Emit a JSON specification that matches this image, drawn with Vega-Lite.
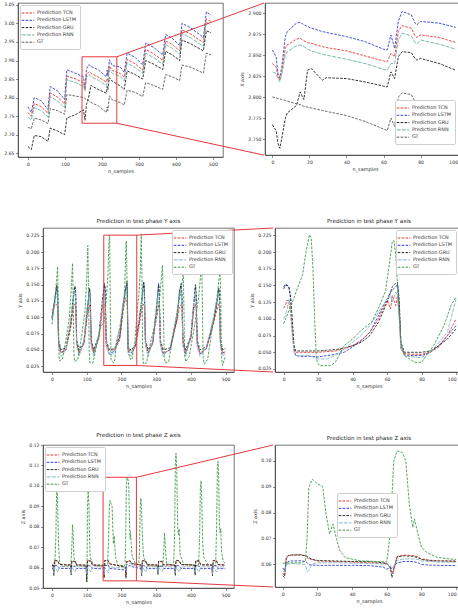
{
"$schema":"https://vega.github.io/schema/vega-lite/v6.json",
"padding":{"left":3,"top":1,"right":0,"bottom":0},
"config":{"font":"DejaVu Sans","background":"white","view":{"stroke":"#3a3a3a","strokeWidth":0.7},
"axis":{"labelFontSize":4.6,"titleFontSize":4.9,"titleFontWeight":"normal","labelColor":"#333","titleColor":"#333","tickColor":"#444","domainColor":"#3a3a3a","tickSize":2.5,"tickWidth":0.6,"domainWidth":0.7,"labelPadding":1.5,"titlePadding":3,"grid":false,"labelFlush":false,"labelOverlap":false},
"title":{"fontSize":5.6,"fontWeight":"normal","color":"#222","offset":3},
"legend":{"labelFontSize":4.9,"labelColor":"#333","symbolSize":49,"symbolStrokeWidth":1,"rowPadding":1.3,"padding":4,"strokeColor":"#cfcfcf","fillColor":"white","cornerRadius":1.5,"offset":2,"labelOffset":5,"labelLimit":120}},
"datasets":{
"r1l":[
{"s":"LSTM","x":0,"y":2.775},{"s":"LSTM","x":9,"y":2.76},{"s":"LSTM","x":17,"y":2.8},{"s":"LSTM","x":35,"y":2.792},{"s":"LSTM","x":54,"y":2.768},{"s":"LSTM","x":60,"y":2.83},{"s":"LSTM","x":80,"y":2.818},{"s":"LSTM","x":99,"y":2.795},{"s":"LSTM","x":105,"y":2.875},{"s":"LSTM","x":130,"y":2.865},{"s":"LSTM","x":150,"y":2.856},{"s":"LSTM","x":154,"y":2.823},{"s":"LSTM","x":158,"y":2.878},{"s":"LSTM","x":165,"y":2.889},{"s":"LSTM","x":170,"y":2.884},{"s":"LSTM","x":190,"y":2.875},{"s":"LSTM","x":212,"y":2.856},{"s":"LSTM","x":214,"y":2.874},{"s":"LSTM","x":216,"y":2.858},{"s":"LSTM","x":220,"y":2.902},{"s":"LSTM","x":228,"y":2.886},{"s":"LSTM","x":249,"y":2.883},{"s":"LSTM","x":260,"y":2.868},{"s":"LSTM","x":268,"y":2.92},{"s":"LSTM","x":290,"y":2.908},{"s":"LSTM","x":310,"y":2.888},{"s":"LSTM","x":318,"y":2.947},{"s":"LSTM","x":340,"y":2.935},{"s":"LSTM","x":364,"y":2.915},{"s":"LSTM","x":372,"y":2.97},{"s":"LSTM","x":390,"y":2.96},{"s":"LSTM","x":410,"y":2.94},{"s":"LSTM","x":416,"y":3.0},{"s":"LSTM","x":440,"y":2.988},{"s":"LSTM","x":474,"y":2.962},{"s":"LSTM","x":482,"y":3.031},{"s":"LSTM","x":495,"y":3.022},
{"s":"TCN","x":0,"y":2.76},{"s":"TCN","x":9,"y":2.75},{"s":"TCN","x":17,"y":2.784},{"s":"TCN","x":35,"y":2.776},{"s":"TCN","x":54,"y":2.758},{"s":"TCN","x":60,"y":2.813},{"s":"TCN","x":80,"y":2.801},{"s":"TCN","x":99,"y":2.783},{"s":"TCN","x":105,"y":2.858},{"s":"TCN","x":130,"y":2.85},{"s":"TCN","x":150,"y":2.84},{"s":"TCN","x":154,"y":2.82},{"s":"TCN","x":158,"y":2.862},{"s":"TCN","x":165,"y":2.87},{"s":"TCN","x":170,"y":2.866},{"s":"TCN","x":190,"y":2.855},{"s":"TCN","x":212,"y":2.842},{"s":"TCN","x":214,"y":2.852},{"s":"TCN","x":216,"y":2.848},{"s":"TCN","x":220,"y":2.885},{"s":"TCN","x":228,"y":2.873},{"s":"TCN","x":249,"y":2.865},{"s":"TCN","x":260,"y":2.855},{"s":"TCN","x":268,"y":2.903},{"s":"TCN","x":290,"y":2.891},{"s":"TCN","x":310,"y":2.874},{"s":"TCN","x":318,"y":2.93},{"s":"TCN","x":340,"y":2.918},{"s":"TCN","x":364,"y":2.9},{"s":"TCN","x":372,"y":2.953},{"s":"TCN","x":390,"y":2.943},{"s":"TCN","x":410,"y":2.926},{"s":"TCN","x":416,"y":2.983},{"s":"TCN","x":440,"y":2.971},{"s":"TCN","x":474,"y":2.948},{"s":"TCN","x":482,"y":3.012},{"s":"TCN","x":495,"y":3.005},
{"s":"RNN","x":0,"y":2.748},{"s":"RNN","x":9,"y":2.74},{"s":"RNN","x":17,"y":2.773},{"s":"RNN","x":35,"y":2.765},{"s":"RNN","x":54,"y":2.748},{"s":"RNN","x":60,"y":2.803},{"s":"RNN","x":80,"y":2.791},{"s":"RNN","x":99,"y":2.772},{"s":"RNN","x":105,"y":2.848},{"s":"RNN","x":130,"y":2.84},{"s":"RNN","x":150,"y":2.83},{"s":"RNN","x":154,"y":2.818},{"s":"RNN","x":158,"y":2.854},{"s":"RNN","x":165,"y":2.862},{"s":"RNN","x":170,"y":2.857},{"s":"RNN","x":190,"y":2.847},{"s":"RNN","x":212,"y":2.832},{"s":"RNN","x":214,"y":2.84},{"s":"RNN","x":216,"y":2.84},{"s":"RNN","x":220,"y":2.876},{"s":"RNN","x":228,"y":2.865},{"s":"RNN","x":249,"y":2.857},{"s":"RNN","x":260,"y":2.845},{"s":"RNN","x":268,"y":2.893},{"s":"RNN","x":290,"y":2.881},{"s":"RNN","x":310,"y":2.865},{"s":"RNN","x":318,"y":2.92},{"s":"RNN","x":340,"y":2.908},{"s":"RNN","x":364,"y":2.89},{"s":"RNN","x":372,"y":2.943},{"s":"RNN","x":390,"y":2.933},{"s":"RNN","x":410,"y":2.916},{"s":"RNN","x":416,"y":2.973},{"s":"RNN","x":440,"y":2.961},{"s":"RNN","x":474,"y":2.938},{"s":"RNN","x":482,"y":3.004},{"s":"RNN","x":495,"y":2.995},
{"s":"GRU","x":0,"y":2.668},{"s":"GRU","x":9,"y":2.66},{"s":"GRU","x":17,"y":2.698},{"s":"GRU","x":35,"y":2.695},{"s":"GRU","x":54,"y":2.682},{"s":"GRU","x":60,"y":2.718},{"s":"GRU","x":80,"y":2.71},{"s":"GRU","x":99,"y":2.7},{"s":"GRU","x":105,"y":2.745},{"s":"GRU","x":130,"y":2.755},{"s":"GRU","x":150,"y":2.767},{"s":"GRU","x":154,"y":2.739},{"s":"GRU","x":158,"y":2.781},{"s":"GRU","x":165,"y":2.806},{"s":"GRU","x":170,"y":2.833},{"s":"GRU","x":190,"y":2.822},{"s":"GRU","x":212,"y":2.812},{"s":"GRU","x":214,"y":2.83},{"s":"GRU","x":216,"y":2.822},{"s":"GRU","x":220,"y":2.854},{"s":"GRU","x":228,"y":2.844},{"s":"GRU","x":249,"y":2.832},{"s":"GRU","x":260,"y":2.822},{"s":"GRU","x":268,"y":2.872},{"s":"GRU","x":290,"y":2.862},{"s":"GRU","x":310,"y":2.85},{"s":"GRU","x":318,"y":2.9},{"s":"GRU","x":340,"y":2.89},{"s":"GRU","x":364,"y":2.876},{"s":"GRU","x":372,"y":2.925},{"s":"GRU","x":390,"y":2.915},{"s":"GRU","x":410,"y":2.9},{"s":"GRU","x":416,"y":2.955},{"s":"GRU","x":440,"y":2.945},{"s":"GRU","x":474,"y":2.926},{"s":"GRU","x":482,"y":2.98},{"s":"GRU","x":495,"y":2.975},
{"s":"GT","x":0,"y":2.72},{"s":"GT","x":9,"y":2.716},{"s":"GT","x":17,"y":2.745},{"s":"GT","x":35,"y":2.74},{"s":"GT","x":54,"y":2.73},{"s":"GT","x":60,"y":2.77},{"s":"GT","x":80,"y":2.765},{"s":"GT","x":99,"y":2.755},{"s":"GT","x":105,"y":2.808},{"s":"GT","x":130,"y":2.804},{"s":"GT","x":150,"y":2.8},{"s":"GT","x":154,"y":2.798},{"s":"GT","x":158,"y":2.795},{"s":"GT","x":165,"y":2.791},{"s":"GT","x":170,"y":2.787},{"s":"GT","x":190,"y":2.778},{"s":"GT","x":212,"y":2.76},{"s":"GT","x":214,"y":2.775},{"s":"GT","x":216,"y":2.765},{"s":"GT","x":220,"y":2.805},{"s":"GT","x":228,"y":2.794},{"s":"GT","x":249,"y":2.787},{"s":"GT","x":260,"y":2.78},{"s":"GT","x":268,"y":2.82},{"s":"GT","x":290,"y":2.814},{"s":"GT","x":310,"y":2.803},{"s":"GT","x":318,"y":2.84},{"s":"GT","x":340,"y":2.833},{"s":"GT","x":364,"y":2.822},{"s":"GT","x":372,"y":2.862},{"s":"GT","x":390,"y":2.856},{"s":"GT","x":410,"y":2.846},{"s":"GT","x":416,"y":2.888},{"s":"GT","x":440,"y":2.882},{"s":"GT","x":474,"y":2.866},{"s":"GT","x":482,"y":2.92},{"s":"GT","x":495,"y":2.915}
],
"r1r":[
{"s":"LSTM","x":0,"y":2.856},{"s":"LSTM","x":2,"y":2.848},{"s":"LSTM","x":3,"y":2.828},{"s":"LSTM","x":4,"y":2.823},{"s":"LSTM","x":5,"y":2.835},{"s":"LSTM","x":7,"y":2.872},{"s":"LSTM","x":8,"y":2.878},{"s":"LSTM","x":13,"y":2.888},{"s":"LSTM","x":15,"y":2.889},{"s":"LSTM","x":17,"y":2.886},{"s":"LSTM","x":19,"y":2.884},{"s":"LSTM","x":21,"y":2.882},{"s":"LSTM","x":27,"y":2.878},{"s":"LSTM","x":29,"y":2.877},{"s":"LSTM","x":40,"y":2.872},{"s":"LSTM","x":50,"y":2.866},{"s":"LSTM","x":60,"y":2.857},{"s":"LSTM","x":62,"y":2.856},{"s":"LSTM","x":64,"y":2.874},{"s":"LSTM","x":66,"y":2.858},{"s":"LSTM","x":68,"y":2.89},{"s":"LSTM","x":70,"y":2.902},{"s":"LSTM","x":75,"y":2.898},{"s":"LSTM","x":77,"y":2.888},{"s":"LSTM","x":78,"y":2.886},{"s":"LSTM","x":80,"y":2.89},{"s":"LSTM","x":90,"y":2.888},{"s":"LSTM","x":99,"y":2.883},
{"s":"TCN","x":0,"y":2.84},{"s":"TCN","x":2,"y":2.836},{"s":"TCN","x":3,"y":2.825},{"s":"TCN","x":4,"y":2.82},{"s":"TCN","x":5,"y":2.83},{"s":"TCN","x":7,"y":2.858},{"s":"TCN","x":8,"y":2.862},{"s":"TCN","x":13,"y":2.869},{"s":"TCN","x":15,"y":2.87},{"s":"TCN","x":17,"y":2.867},{"s":"TCN","x":19,"y":2.865},{"s":"TCN","x":21,"y":2.864},{"s":"TCN","x":27,"y":2.86},{"s":"TCN","x":29,"y":2.859},{"s":"TCN","x":40,"y":2.855},{"s":"TCN","x":50,"y":2.849},{"s":"TCN","x":60,"y":2.843},{"s":"TCN","x":62,"y":2.842},{"s":"TCN","x":64,"y":2.852},{"s":"TCN","x":66,"y":2.848},{"s":"TCN","x":68,"y":2.878},{"s":"TCN","x":70,"y":2.885},{"s":"TCN","x":75,"y":2.882},{"s":"TCN","x":77,"y":2.873},{"s":"TCN","x":78,"y":2.871},{"s":"TCN","x":80,"y":2.874},{"s":"TCN","x":90,"y":2.871},{"s":"TCN","x":99,"y":2.865},
{"s":"RNN","x":0,"y":2.83},{"s":"RNN","x":2,"y":2.828},{"s":"RNN","x":3,"y":2.822},{"s":"RNN","x":4,"y":2.818},{"s":"RNN","x":5,"y":2.826},{"s":"RNN","x":7,"y":2.85},{"s":"RNN","x":8,"y":2.854},{"s":"RNN","x":13,"y":2.861},{"s":"RNN","x":15,"y":2.862},{"s":"RNN","x":17,"y":2.86},{"s":"RNN","x":19,"y":2.857},{"s":"RNN","x":21,"y":2.855},{"s":"RNN","x":27,"y":2.851},{"s":"RNN","x":29,"y":2.85},{"s":"RNN","x":40,"y":2.845},{"s":"RNN","x":50,"y":2.84},{"s":"RNN","x":60,"y":2.833},{"s":"RNN","x":62,"y":2.832},{"s":"RNN","x":64,"y":2.84},{"s":"RNN","x":66,"y":2.84},{"s":"RNN","x":68,"y":2.868},{"s":"RNN","x":70,"y":2.876},{"s":"RNN","x":75,"y":2.873},{"s":"RNN","x":77,"y":2.865},{"s":"RNN","x":78,"y":2.863},{"s":"RNN","x":80,"y":2.868},{"s":"RNN","x":90,"y":2.863},{"s":"RNN","x":99,"y":2.857},
{"s":"GRU","x":0,"y":2.767},{"s":"GRU","x":2,"y":2.76},{"s":"GRU","x":3,"y":2.745},{"s":"GRU","x":4,"y":2.739},{"s":"GRU","x":5,"y":2.75},{"s":"GRU","x":7,"y":2.775},{"s":"GRU","x":8,"y":2.781},{"s":"GRU","x":13,"y":2.79},{"s":"GRU","x":15,"y":2.806},{"s":"GRU","x":17,"y":2.797},{"s":"GRU","x":19,"y":2.832},{"s":"GRU","x":21,"y":2.834},{"s":"GRU","x":27,"y":2.82},{"s":"GRU","x":29,"y":2.823},{"s":"GRU","x":40,"y":2.822},{"s":"GRU","x":50,"y":2.818},{"s":"GRU","x":60,"y":2.813},{"s":"GRU","x":62,"y":2.812},{"s":"GRU","x":64,"y":2.83},{"s":"GRU","x":66,"y":2.822},{"s":"GRU","x":68,"y":2.848},{"s":"GRU","x":70,"y":2.854},{"s":"GRU","x":75,"y":2.853},{"s":"GRU","x":77,"y":2.846},{"s":"GRU","x":78,"y":2.844},{"s":"GRU","x":80,"y":2.846},{"s":"GRU","x":90,"y":2.84},{"s":"GRU","x":99,"y":2.832},
{"s":"GT","x":0,"y":2.8},{"s":"GT","x":2,"y":2.799},{"s":"GT","x":3,"y":2.798},{"s":"GT","x":4,"y":2.798},{"s":"GT","x":5,"y":2.797},{"s":"GT","x":7,"y":2.796},{"s":"GT","x":8,"y":2.795},{"s":"GT","x":13,"y":2.792},{"s":"GT","x":15,"y":2.791},{"s":"GT","x":17,"y":2.789},{"s":"GT","x":19,"y":2.788},{"s":"GT","x":21,"y":2.787},{"s":"GT","x":27,"y":2.784},{"s":"GT","x":29,"y":2.783},{"s":"GT","x":40,"y":2.778},{"s":"GT","x":50,"y":2.771},{"s":"GT","x":60,"y":2.762},{"s":"GT","x":62,"y":2.76},{"s":"GT","x":64,"y":2.775},{"s":"GT","x":66,"y":2.765},{"s":"GT","x":68,"y":2.8},{"s":"GT","x":70,"y":2.805},{"s":"GT","x":75,"y":2.803},{"s":"GT","x":77,"y":2.795},{"s":"GT","x":78,"y":2.793},{"s":"GT","x":80,"y":2.796},{"s":"GT","x":90,"y":2.792},{"s":"GT","x":99,"y":2.787}
],
"r2l":[
{"s":"LSTM","x":0,"y":0.1},{"s":"LSTM","x":8,"y":0.128},{"s":"LSTM","x":14,"y":0.147},{"s":"LSTM","x":16,"y":0.135},{"s":"LSTM","x":19,"y":0.06},{"s":"LSTM","x":26,"y":0.046},{"s":"LSTM","x":40,"y":0.05},{"s":"LSTM","x":54,"y":0.09},{"s":"LSTM","x":61,"y":0.13},{"s":"LSTM","x":66,"y":0.145},{"s":"LSTM","x":68,"y":0.135},{"s":"LSTM","x":71,"y":0.06},{"s":"LSTM","x":78,"y":0.045},{"s":"LSTM","x":92,"y":0.06},{"s":"LSTM","x":101,"y":0.11},{"s":"LSTM","x":108,"y":0.142},{"s":"LSTM","x":110,"y":0.13},{"s":"LSTM","x":113,"y":0.06},{"s":"LSTM","x":120,"y":0.045},{"s":"LSTM","x":135,"y":0.07},{"s":"LSTM","x":146,"y":0.13},{"s":"LSTM","x":151,"y":0.152},{"s":"LSTM","x":153,"y":0.14},{"s":"LSTM","x":156,"y":0.06},{"s":"LSTM","x":165,"y":0.044},{"s":"LSTM","x":180,"y":0.048},{"s":"LSTM","x":195,"y":0.07},{"s":"LSTM","x":205,"y":0.12},{"s":"LSTM","x":211,"y":0.142},{"s":"LSTM","x":216,"y":0.152},{"s":"LSTM","x":217,"y":0.13},{"s":"LSTM","x":219,"y":0.048},{"s":"LSTM","x":228,"y":0.045},{"s":"LSTM","x":240,"y":0.055},{"s":"LSTM","x":252,"y":0.1},{"s":"LSTM","x":259,"y":0.13},{"s":"LSTM","x":264,"y":0.155},{"s":"LSTM","x":266,"y":0.14},{"s":"LSTM","x":269,"y":0.06},{"s":"LSTM","x":277,"y":0.045},{"s":"LSTM","x":290,"y":0.06},{"s":"LSTM","x":300,"y":0.11},{"s":"LSTM","x":307,"y":0.152},{"s":"LSTM","x":309,"y":0.13},{"s":"LSTM","x":312,"y":0.06},{"s":"LSTM","x":320,"y":0.044},{"s":"LSTM","x":340,"y":0.05},{"s":"LSTM","x":360,"y":0.1},{"s":"LSTM","x":367,"y":0.14},{"s":"LSTM","x":372,"y":0.15},{"s":"LSTM","x":374,"y":0.13},{"s":"LSTM","x":377,"y":0.06},{"s":"LSTM","x":385,"y":0.044},{"s":"LSTM","x":400,"y":0.07},{"s":"LSTM","x":408,"y":0.12},{"s":"LSTM","x":413,"y":0.147},{"s":"LSTM","x":415,"y":0.13},{"s":"LSTM","x":418,"y":0.06},{"s":"LSTM","x":426,"y":0.044},{"s":"LSTM","x":445,"y":0.052},{"s":"LSTM","x":465,"y":0.095},{"s":"LSTM","x":474,"y":0.12},{"s":"LSTM","x":480,"y":0.143},{"s":"LSTM","x":482,"y":0.13},{"s":"LSTM","x":485,"y":0.06},{"s":"LSTM","x":492,"y":0.045},{"s":"LSTM","x":499,"y":0.048},
{"s":"GRU","x":0,"y":0.098},{"s":"GRU","x":8,"y":0.125},{"s":"GRU","x":14,"y":0.15},{"s":"GRU","x":16,"y":0.14},{"s":"GRU","x":19,"y":0.065},{"s":"GRU","x":26,"y":0.05},{"s":"GRU","x":40,"y":0.053},{"s":"GRU","x":54,"y":0.088},{"s":"GRU","x":61,"y":0.128},{"s":"GRU","x":66,"y":0.148},{"s":"GRU","x":68,"y":0.14},{"s":"GRU","x":71,"y":0.065},{"s":"GRU","x":78,"y":0.05},{"s":"GRU","x":92,"y":0.062},{"s":"GRU","x":101,"y":0.108},{"s":"GRU","x":108,"y":0.145},{"s":"GRU","x":110,"y":0.135},{"s":"GRU","x":113,"y":0.065},{"s":"GRU","x":120,"y":0.05},{"s":"GRU","x":135,"y":0.072},{"s":"GRU","x":146,"y":0.128},{"s":"GRU","x":151,"y":0.15},{"s":"GRU","x":153,"y":0.145},{"s":"GRU","x":156,"y":0.065},{"s":"GRU","x":165,"y":0.05},{"s":"GRU","x":180,"y":0.052},{"s":"GRU","x":195,"y":0.07},{"s":"GRU","x":205,"y":0.118},{"s":"GRU","x":211,"y":0.14},{"s":"GRU","x":216,"y":0.155},{"s":"GRU","x":217,"y":0.135},{"s":"GRU","x":219,"y":0.052},{"s":"GRU","x":228,"y":0.05},{"s":"GRU","x":240,"y":0.057},{"s":"GRU","x":252,"y":0.098},{"s":"GRU","x":259,"y":0.128},{"s":"GRU","x":264,"y":0.153},{"s":"GRU","x":266,"y":0.145},{"s":"GRU","x":269,"y":0.065},{"s":"GRU","x":277,"y":0.05},{"s":"GRU","x":290,"y":0.062},{"s":"GRU","x":300,"y":0.108},{"s":"GRU","x":307,"y":0.15},{"s":"GRU","x":309,"y":0.135},{"s":"GRU","x":312,"y":0.065},{"s":"GRU","x":320,"y":0.05},{"s":"GRU","x":340,"y":0.053},{"s":"GRU","x":360,"y":0.098},{"s":"GRU","x":367,"y":0.138},{"s":"GRU","x":372,"y":0.152},{"s":"GRU","x":374,"y":0.135},{"s":"GRU","x":377,"y":0.065},{"s":"GRU","x":385,"y":0.05},{"s":"GRU","x":400,"y":0.072},{"s":"GRU","x":408,"y":0.118},{"s":"GRU","x":413,"y":0.15},{"s":"GRU","x":415,"y":0.135},{"s":"GRU","x":418,"y":0.065},{"s":"GRU","x":426,"y":0.05},{"s":"GRU","x":445,"y":0.055},{"s":"GRU","x":465,"y":0.093},{"s":"GRU","x":474,"y":0.118},{"s":"GRU","x":480,"y":0.145},{"s":"GRU","x":482,"y":0.135},{"s":"GRU","x":485,"y":0.065},{"s":"GRU","x":492,"y":0.05},{"s":"GRU","x":499,"y":0.052},
{"s":"TCN","x":0,"y":0.11},{"s":"TCN","x":8,"y":0.118},{"s":"TCN","x":14,"y":0.12},{"s":"TCN","x":16,"y":0.115},{"s":"TCN","x":19,"y":0.06},{"s":"TCN","x":26,"y":0.045},{"s":"TCN","x":40,"y":0.05},{"s":"TCN","x":54,"y":0.085},{"s":"TCN","x":61,"y":0.115},{"s":"TCN","x":66,"y":0.12},{"s":"TCN","x":68,"y":0.115},{"s":"TCN","x":71,"y":0.06},{"s":"TCN","x":78,"y":0.045},{"s":"TCN","x":92,"y":0.06},{"s":"TCN","x":101,"y":0.1},{"s":"TCN","x":108,"y":0.118},{"s":"TCN","x":110,"y":0.112},{"s":"TCN","x":113,"y":0.06},{"s":"TCN","x":120,"y":0.046},{"s":"TCN","x":135,"y":0.068},{"s":"TCN","x":146,"y":0.115},{"s":"TCN","x":151,"y":0.118},{"s":"TCN","x":153,"y":0.12},{"s":"TCN","x":156,"y":0.06},{"s":"TCN","x":165,"y":0.05},{"s":"TCN","x":180,"y":0.05},{"s":"TCN","x":195,"y":0.065},{"s":"TCN","x":205,"y":0.11},{"s":"TCN","x":211,"y":0.13},{"s":"TCN","x":216,"y":0.12},{"s":"TCN","x":217,"y":0.115},{"s":"TCN","x":219,"y":0.05},{"s":"TCN","x":228,"y":0.048},{"s":"TCN","x":240,"y":0.055},{"s":"TCN","x":252,"y":0.09},{"s":"TCN","x":259,"y":0.115},{"s":"TCN","x":264,"y":0.12},{"s":"TCN","x":266,"y":0.118},{"s":"TCN","x":269,"y":0.06},{"s":"TCN","x":277,"y":0.046},{"s":"TCN","x":290,"y":0.06},{"s":"TCN","x":300,"y":0.1},{"s":"TCN","x":307,"y":0.12},{"s":"TCN","x":309,"y":0.115},{"s":"TCN","x":312,"y":0.06},{"s":"TCN","x":320,"y":0.045},{"s":"TCN","x":340,"y":0.05},{"s":"TCN","x":360,"y":0.095},{"s":"TCN","x":367,"y":0.115},{"s":"TCN","x":372,"y":0.12},{"s":"TCN","x":374,"y":0.115},{"s":"TCN","x":377,"y":0.06},{"s":"TCN","x":385,"y":0.045},{"s":"TCN","x":400,"y":0.068},{"s":"TCN","x":408,"y":0.11},{"s":"TCN","x":413,"y":0.12},{"s":"TCN","x":415,"y":0.115},{"s":"TCN","x":418,"y":0.06},{"s":"TCN","x":426,"y":0.045},{"s":"TCN","x":445,"y":0.052},{"s":"TCN","x":465,"y":0.09},{"s":"TCN","x":474,"y":0.11},{"s":"TCN","x":480,"y":0.12},{"s":"TCN","x":482,"y":0.115},{"s":"TCN","x":485,"y":0.06},{"s":"TCN","x":492,"y":0.045},{"s":"TCN","x":499,"y":0.047},
{"s":"RNN","x":0,"y":0.095},{"s":"RNN","x":8,"y":0.12},{"s":"RNN","x":14,"y":0.14},{"s":"RNN","x":16,"y":0.13},{"s":"RNN","x":19,"y":0.055},{"s":"RNN","x":26,"y":0.04},{"s":"RNN","x":40,"y":0.05},{"s":"RNN","x":54,"y":0.1},{"s":"RNN","x":61,"y":0.13},{"s":"RNN","x":66,"y":0.14},{"s":"RNN","x":68,"y":0.13},{"s":"RNN","x":71,"y":0.055},{"s":"RNN","x":78,"y":0.04},{"s":"RNN","x":92,"y":0.065},{"s":"RNN","x":101,"y":0.115},{"s":"RNN","x":108,"y":0.138},{"s":"RNN","x":110,"y":0.125},{"s":"RNN","x":113,"y":0.055},{"s":"RNN","x":120,"y":0.04},{"s":"RNN","x":135,"y":0.075},{"s":"RNN","x":146,"y":0.125},{"s":"RNN","x":151,"y":0.14},{"s":"RNN","x":153,"y":0.13},{"s":"RNN","x":156,"y":0.055},{"s":"RNN","x":165,"y":0.042},{"s":"RNN","x":180,"y":0.045},{"s":"RNN","x":195,"y":0.085},{"s":"RNN","x":205,"y":0.125},{"s":"RNN","x":211,"y":0.135},{"s":"RNN","x":216,"y":0.13},{"s":"RNN","x":217,"y":0.12},{"s":"RNN","x":219,"y":0.045},{"s":"RNN","x":228,"y":0.04},{"s":"RNN","x":240,"y":0.06},{"s":"RNN","x":252,"y":0.105},{"s":"RNN","x":259,"y":0.13},{"s":"RNN","x":264,"y":0.145},{"s":"RNN","x":266,"y":0.13},{"s":"RNN","x":269,"y":0.055},{"s":"RNN","x":277,"y":0.04},{"s":"RNN","x":290,"y":0.065},{"s":"RNN","x":300,"y":0.115},{"s":"RNN","x":307,"y":0.14},{"s":"RNN","x":309,"y":0.125},{"s":"RNN","x":312,"y":0.055},{"s":"RNN","x":320,"y":0.04},{"s":"RNN","x":340,"y":0.055},{"s":"RNN","x":360,"y":0.105},{"s":"RNN","x":367,"y":0.135},{"s":"RNN","x":372,"y":0.14},{"s":"RNN","x":374,"y":0.125},{"s":"RNN","x":377,"y":0.055},{"s":"RNN","x":385,"y":0.04},{"s":"RNN","x":400,"y":0.075},{"s":"RNN","x":408,"y":0.125},{"s":"RNN","x":413,"y":0.14},{"s":"RNN","x":415,"y":0.125},{"s":"RNN","x":418,"y":0.055},{"s":"RNN","x":426,"y":0.04},{"s":"RNN","x":445,"y":0.055},{"s":"RNN","x":465,"y":0.1},{"s":"RNN","x":474,"y":0.125},{"s":"RNN","x":480,"y":0.138},{"s":"RNN","x":482,"y":0.125},{"s":"RNN","x":485,"y":0.055},{"s":"RNN","x":492,"y":0.04},{"s":"RNN","x":499,"y":0.045},
{"s":"GT","x":0,"y":0.089},{"s":"GT","x":8,"y":0.13},{"s":"GT","x":13,"y":0.155},{"s":"GT","x":16,"y":0.178},{"s":"GT","x":18,"y":0.12},{"s":"GT","x":20,"y":0.04},{"s":"GT","x":22,"y":0.033},{"s":"GT","x":30,"y":0.036},{"s":"GT","x":40,"y":0.065},{"s":"GT","x":50,"y":0.1},{"s":"GT","x":55,"y":0.14},{"s":"GT","x":59,"y":0.183},{"s":"GT","x":61,"y":0.13},{"s":"GT","x":63,"y":0.045},{"s":"GT","x":65,"y":0.032},{"s":"GT","x":74,"y":0.035},{"s":"GT","x":85,"y":0.07},{"s":"GT","x":95,"y":0.11},{"s":"GT","x":100,"y":0.16},{"s":"GT","x":103,"y":0.21},{"s":"GT","x":105,"y":0.15},{"s":"GT","x":107,"y":0.05},{"s":"GT","x":109,"y":0.03},{"s":"GT","x":118,"y":0.03},{"s":"GT","x":128,"y":0.055},{"s":"GT","x":140,"y":0.085},{"s":"GT","x":150,"y":0.093},{"s":"GT","x":156,"y":0.126},{"s":"GT","x":161,"y":0.166},{"s":"GT","x":163,"y":0.201},{"s":"GT","x":165,"y":0.226},{"s":"GT","x":166,"y":0.221},{"s":"GT","x":168,"y":0.1},{"s":"GT","x":170,"y":0.035},{"s":"GT","x":177,"y":0.03},{"s":"GT","x":181,"y":0.035},{"s":"GT","x":185,"y":0.06},{"s":"GT","x":196,"y":0.083},{"s":"GT","x":205,"y":0.116},{"s":"GT","x":209,"y":0.141},{"s":"GT","x":211,"y":0.176},{"s":"GT","x":213,"y":0.216},{"s":"GT","x":214,"y":0.217},{"s":"GT","x":216,"y":0.151},{"s":"GT","x":218,"y":0.065},{"s":"GT","x":220,"y":0.045},{"s":"GT","x":226,"y":0.035},{"s":"GT","x":230,"y":0.035},{"s":"GT","x":238,"y":0.06},{"s":"GT","x":247,"y":0.12},{"s":"GT","x":250,"y":0.133},{"s":"GT","x":254,"y":0.17},{"s":"GT","x":257,"y":0.228},{"s":"GT","x":259,"y":0.16},{"s":"GT","x":261,"y":0.05},{"s":"GT","x":263,"y":0.028},{"s":"GT","x":272,"y":0.03},{"s":"GT","x":285,"y":0.065},{"s":"GT","x":300,"y":0.095},{"s":"GT","x":310,"y":0.13},{"s":"GT","x":315,"y":0.16},{"s":"GT","x":318,"y":0.18},{"s":"GT","x":321,"y":0.1},{"s":"GT","x":323,"y":0.04},{"s":"GT","x":326,"y":0.03},{"s":"GT","x":336,"y":0.032},{"s":"GT","x":348,"y":0.07},{"s":"GT","x":362,"y":0.115},{"s":"GT","x":372,"y":0.14},{"s":"GT","x":378,"y":0.168},{"s":"GT","x":380,"y":0.11},{"s":"GT","x":382,"y":0.04},{"s":"GT","x":385,"y":0.032},{"s":"GT","x":395,"y":0.04},{"s":"GT","x":410,"y":0.085},{"s":"GT","x":422,"y":0.13},{"s":"GT","x":428,"y":0.165},{"s":"GT","x":431,"y":0.182},{"s":"GT","x":433,"y":0.12},{"s":"GT","x":435,"y":0.04},{"s":"GT","x":438,"y":0.028},{"s":"GT","x":448,"y":0.035},{"s":"GT","x":462,"y":0.085},{"s":"GT","x":475,"y":0.13},{"s":"GT","x":481,"y":0.16},{"s":"GT","x":484,"y":0.17},{"s":"GT","x":486,"y":0.12},{"s":"GT","x":488,"y":0.04},{"s":"GT","x":491,"y":0.026},{"s":"GT","x":499,"y":0.04}
],
"r2r":[
{"s":"LSTM","x":0,"y":0.148},{"s":"LSTM","x":1,"y":0.152},{"s":"LSTM","x":2,"y":0.151},{"s":"LSTM","x":3,"y":0.148},{"s":"LSTM","x":4,"y":0.13},{"s":"LSTM","x":5,"y":0.09},{"s":"LSTM","x":6,"y":0.055},{"s":"LSTM","x":7,"y":0.045},{"s":"LSTM","x":10,"y":0.044},{"s":"LSTM","x":15,"y":0.044},{"s":"LSTM","x":20,"y":0.043},{"s":"LSTM","x":25,"y":0.045},{"s":"LSTM","x":30,"y":0.047},{"s":"LSTM","x":35,"y":0.05},{"s":"LSTM","x":40,"y":0.058},{"s":"LSTM","x":45,"y":0.067},{"s":"LSTM","x":50,"y":0.08},{"s":"LSTM","x":55,"y":0.105},{"s":"LSTM","x":60,"y":0.13},{"s":"LSTM","x":62,"y":0.14},{"s":"LSTM","x":63,"y":0.143},{"s":"LSTM","x":65,"y":0.148},{"s":"LSTM","x":66,"y":0.152},{"s":"LSTM","x":67,"y":0.12},{"s":"LSTM","x":68,"y":0.06},{"s":"LSTM","x":70,"y":0.046},{"s":"LSTM","x":75,"y":0.045},{"s":"LSTM","x":80,"y":0.045},{"s":"LSTM","x":85,"y":0.05},{"s":"LSTM","x":90,"y":0.06},{"s":"LSTM","x":95,"y":0.075},{"s":"LSTM","x":100,"y":0.09},
{"s":"TCN","x":0,"y":0.116},{"s":"TCN","x":1,"y":0.12},{"s":"TCN","x":2,"y":0.128},{"s":"TCN","x":3,"y":0.125},{"s":"TCN","x":4,"y":0.11},{"s":"TCN","x":5,"y":0.08},{"s":"TCN","x":6,"y":0.055},{"s":"TCN","x":7,"y":0.05},{"s":"TCN","x":10,"y":0.05},{"s":"TCN","x":15,"y":0.05},{"s":"TCN","x":20,"y":0.05},{"s":"TCN","x":25,"y":0.051},{"s":"TCN","x":30,"y":0.052},{"s":"TCN","x":35,"y":0.055},{"s":"TCN","x":40,"y":0.06},{"s":"TCN","x":45,"y":0.068},{"s":"TCN","x":50,"y":0.08},{"s":"TCN","x":55,"y":0.1},{"s":"TCN","x":60,"y":0.128},{"s":"TCN","x":62,"y":0.115},{"s":"TCN","x":63,"y":0.135},{"s":"TCN","x":65,"y":0.12},{"s":"TCN","x":66,"y":0.135},{"s":"TCN","x":67,"y":0.11},{"s":"TCN","x":68,"y":0.055},{"s":"TCN","x":70,"y":0.048},{"s":"TCN","x":75,"y":0.047},{"s":"TCN","x":80,"y":0.047},{"s":"TCN","x":85,"y":0.05},{"s":"TCN","x":90,"y":0.058},{"s":"TCN","x":95,"y":0.075},{"s":"TCN","x":100,"y":0.1},
{"s":"GRU","x":0,"y":0.145},{"s":"GRU","x":1,"y":0.15},{"s":"GRU","x":2,"y":0.15},{"s":"GRU","x":3,"y":0.148},{"s":"GRU","x":4,"y":0.135},{"s":"GRU","x":5,"y":0.1},{"s":"GRU","x":6,"y":0.06},{"s":"GRU","x":7,"y":0.052},{"s":"GRU","x":10,"y":0.052},{"s":"GRU","x":15,"y":0.052},{"s":"GRU","x":20,"y":0.052},{"s":"GRU","x":25,"y":0.053},{"s":"GRU","x":30,"y":0.054},{"s":"GRU","x":35,"y":0.056},{"s":"GRU","x":40,"y":0.06},{"s":"GRU","x":45,"y":0.065},{"s":"GRU","x":50,"y":0.075},{"s":"GRU","x":55,"y":0.095},{"s":"GRU","x":60,"y":0.125},{"s":"GRU","x":62,"y":0.14},{"s":"GRU","x":63,"y":0.148},{"s":"GRU","x":65,"y":0.153},{"s":"GRU","x":66,"y":0.155},{"s":"GRU","x":67,"y":0.13},{"s":"GRU","x":68,"y":0.065},{"s":"GRU","x":70,"y":0.05},{"s":"GRU","x":75,"y":0.05},{"s":"GRU","x":80,"y":0.05},{"s":"GRU","x":85,"y":0.052},{"s":"GRU","x":90,"y":0.06},{"s":"GRU","x":95,"y":0.07},{"s":"GRU","x":100,"y":0.085},
{"s":"RNN","x":0,"y":0.1},{"s":"RNN","x":1,"y":0.105},{"s":"RNN","x":2,"y":0.115},{"s":"RNN","x":3,"y":0.13},{"s":"RNN","x":4,"y":0.12},{"s":"RNN","x":5,"y":0.08},{"s":"RNN","x":6,"y":0.05},{"s":"RNN","x":7,"y":0.045},{"s":"RNN","x":10,"y":0.045},{"s":"RNN","x":15,"y":0.045},{"s":"RNN","x":20,"y":0.04},{"s":"RNN","x":25,"y":0.04},{"s":"RNN","x":30,"y":0.045},{"s":"RNN","x":35,"y":0.055},{"s":"RNN","x":40,"y":0.065},{"s":"RNN","x":45,"y":0.075},{"s":"RNN","x":50,"y":0.09},{"s":"RNN","x":55,"y":0.11},{"s":"RNN","x":60,"y":0.13},{"s":"RNN","x":62,"y":0.135},{"s":"RNN","x":63,"y":0.125},{"s":"RNN","x":65,"y":0.14},{"s":"RNN","x":66,"y":0.135},{"s":"RNN","x":67,"y":0.1},{"s":"RNN","x":68,"y":0.055},{"s":"RNN","x":70,"y":0.045},{"s":"RNN","x":75,"y":0.043},{"s":"RNN","x":80,"y":0.042},{"s":"RNN","x":85,"y":0.05},{"s":"RNN","x":90,"y":0.065},{"s":"RNN","x":95,"y":0.08},{"s":"RNN","x":100,"y":0.13},
{"s":"GT","x":0,"y":0.093},{"s":"GT","x":5,"y":0.124},{"s":"GT","x":8,"y":0.146},{"s":"GT","x":11,"y":0.166},{"s":"GT","x":13,"y":0.201},{"s":"GT","x":15,"y":0.226},{"s":"GT","x":16,"y":0.221},{"s":"GT","x":17,"y":0.176},{"s":"GT","x":18,"y":0.1},{"s":"GT","x":19,"y":0.04},{"s":"GT","x":20,"y":0.033},{"s":"GT","x":21,"y":0.03},{"s":"GT","x":27,"y":0.03},{"s":"GT","x":30,"y":0.035},{"s":"GT","x":35,"y":0.06},{"s":"GT","x":40,"y":0.07},{"s":"GT","x":45,"y":0.083},{"s":"GT","x":51,"y":0.095},{"s":"GT","x":55,"y":0.116},{"s":"GT","x":59,"y":0.141},{"s":"GT","x":61,"y":0.176},{"s":"GT","x":63,"y":0.216},{"s":"GT","x":64,"y":0.217},{"s":"GT","x":65,"y":0.196},{"s":"GT","x":66,"y":0.151},{"s":"GT","x":68,"y":0.065},{"s":"GT","x":70,"y":0.045},{"s":"GT","x":73,"y":0.04},{"s":"GT","x":76,"y":0.035},{"s":"GT","x":80,"y":0.035},{"s":"GT","x":84,"y":0.05},{"s":"GT","x":87,"y":0.06},{"s":"GT","x":93,"y":0.09},{"s":"GT","x":97,"y":0.12},{"s":"GT","x":100,"y":0.133}
],
"r3l":[
{"s":"GT","x":0,"y":0.0605},{"s":"GT","x":8,"y":0.061},{"s":"GT","x":11,"y":0.075},{"s":"GT","x":13,"y":0.096},{"s":"GT","x":15,"y":0.098},{"s":"GT","x":17,"y":0.085},{"s":"GT","x":19,"y":0.07},{"s":"GT","x":22,"y":0.063},{"s":"GT","x":30,"y":0.0605},{"s":"GT","x":54,"y":0.061},{"s":"GT","x":57,"y":0.07},{"s":"GT","x":59,"y":0.081},{"s":"GT","x":61,"y":0.076},{"s":"GT","x":63,"y":0.065},{"s":"GT","x":70,"y":0.061},{"s":"GT","x":97,"y":0.0605},{"s":"GT","x":99,"y":0.06},{"s":"GT","x":100,"y":0.053},{"s":"GT","x":101,"y":0.062},{"s":"GT","x":102,"y":0.09},{"s":"GT","x":104,"y":0.0975},{"s":"GT","x":106,"y":0.092},{"s":"GT","x":108,"y":0.075},{"s":"GT","x":110,"y":0.065},{"s":"GT","x":120,"y":0.061},{"s":"GT","x":160,"y":0.061},{"s":"GT","x":163,"y":0.075},{"s":"GT","x":165,"y":0.0897},{"s":"GT","x":167,"y":0.0929},{"s":"GT","x":170,"y":0.0912},{"s":"GT","x":173,"y":0.09},{"s":"GT","x":175,"y":0.079},{"s":"GT","x":177,"y":0.0717},{"s":"GT","x":179,"y":0.0755},{"s":"GT","x":181,"y":0.0698},{"s":"GT","x":183,"y":0.065},{"s":"GT","x":190,"y":0.061},{"s":"GT","x":210,"y":0.061},{"s":"GT","x":212,"y":0.0717},{"s":"GT","x":214,"y":0.1},{"s":"GT","x":216,"y":0.104},{"s":"GT","x":219,"y":0.103},{"s":"GT","x":221,"y":0.1},{"s":"GT","x":223,"y":0.083},{"s":"GT","x":225,"y":0.074},{"s":"GT","x":226,"y":0.0775},{"s":"GT","x":228,"y":0.0717},{"s":"GT","x":230,"y":0.0666},{"s":"GT","x":233,"y":0.0645},{"s":"GT","x":240,"y":0.062},{"s":"GT","x":250,"y":0.0615},{"s":"GT","x":252,"y":0.07},{"s":"GT","x":254,"y":0.09},{"s":"GT","x":256,"y":0.094},{"s":"GT","x":258,"y":0.088},{"s":"GT","x":261,"y":0.072},{"s":"GT","x":264,"y":0.065},{"s":"GT","x":275,"y":0.061},{"s":"GT","x":318,"y":0.0605},{"s":"GT","x":321,"y":0.066},{"s":"GT","x":324,"y":0.077},{"s":"GT","x":327,"y":0.068},{"s":"GT","x":330,"y":0.062},{"s":"GT","x":350,"y":0.061},{"s":"GT","x":353,"y":0.075},{"s":"GT","x":355,"y":0.11},{"s":"GT","x":357,"y":0.116},{"s":"GT","x":359,"y":0.108},{"s":"GT","x":362,"y":0.08},{"s":"GT","x":364,"y":0.076},{"s":"GT","x":366,"y":0.079},{"s":"GT","x":369,"y":0.066},{"s":"GT","x":380,"y":0.0615},{"s":"GT","x":422,"y":0.061},{"s":"GT","x":425,"y":0.075},{"s":"GT","x":427,"y":0.098},{"s":"GT","x":429,"y":0.1025},{"s":"GT","x":431,"y":0.094},{"s":"GT","x":434,"y":0.072},{"s":"GT","x":437,"y":0.065},{"s":"GT","x":450,"y":0.0612},{"s":"GT","x":471,"y":0.061},{"s":"GT","x":474,"y":0.08},{"s":"GT","x":476,"y":0.108},{"s":"GT","x":478,"y":0.112},{"s":"GT","x":480,"y":0.104},{"s":"GT","x":482,"y":0.08},{"s":"GT","x":484,"y":0.077},{"s":"GT","x":486,"y":0.079},{"s":"GT","x":488,"y":0.068},{"s":"GT","x":493,"y":0.063},{"s":"GT","x":499,"y":0.062},
{"s":"TCN","x":0,"y":0.0612},{"s":"TCN","x":3,"y":0.0612},{"s":"TCN","x":5,"y":0.057},{"s":"TCN","x":7,"y":0.0635},{"s":"TCN","x":17,"y":0.0632},{"s":"TCN","x":21,"y":0.0614},{"s":"TCN","x":53,"y":0.0612},{"s":"TCN","x":55,"y":0.0575},{"s":"TCN","x":57,"y":0.063},{"s":"TCN","x":67,"y":0.0628},{"s":"TCN","x":71,"y":0.0612},{"s":"TCN","x":98,"y":0.0611},{"s":"TCN","x":100,"y":0.0565},{"s":"TCN","x":102,"y":0.0635},{"s":"TCN","x":112,"y":0.063},{"s":"TCN","x":116,"y":0.0613},{"s":"TCN","x":148,"y":0.0603},{"s":"TCN","x":150,"y":0.0555},{"s":"TCN","x":152,"y":0.0635},{"s":"TCN","x":162,"y":0.0632},{"s":"TCN","x":166,"y":0.0618},{"s":"TCN","x":211,"y":0.0602},{"s":"TCN","x":213,"y":0.0555},{"s":"TCN","x":215,"y":0.0632},{"s":"TCN","x":225,"y":0.0633},{"s":"TCN","x":229,"y":0.0618},{"s":"TCN","x":256,"y":0.0612},{"s":"TCN","x":258,"y":0.057},{"s":"TCN","x":260,"y":0.0634},{"s":"TCN","x":270,"y":0.063},{"s":"TCN","x":274,"y":0.0613},{"s":"TCN","x":303,"y":0.0612},{"s":"TCN","x":305,"y":0.0575},{"s":"TCN","x":307,"y":0.063},{"s":"TCN","x":317,"y":0.0628},{"s":"TCN","x":321,"y":0.0612},{"s":"TCN","x":353,"y":0.0612},{"s":"TCN","x":355,"y":0.057},{"s":"TCN","x":357,"y":0.0636},{"s":"TCN","x":367,"y":0.0632},{"s":"TCN","x":371,"y":0.0614},{"s":"TCN","x":410,"y":0.0612},{"s":"TCN","x":412,"y":0.0572},{"s":"TCN","x":414,"y":0.0634},{"s":"TCN","x":424,"y":0.063},{"s":"TCN","x":428,"y":0.0613},{"s":"TCN","x":460,"y":0.0612},{"s":"TCN","x":462,"y":0.057},{"s":"TCN","x":464,"y":0.0635},{"s":"TCN","x":474,"y":0.0632},{"s":"TCN","x":478,"y":0.0614},{"s":"TCN","x":499,"y":0.0612},
{"s":"LSTM","x":0,"y":0.0595},{"s":"LSTM","x":3,"y":0.0596},{"s":"LSTM","x":5,"y":0.0578},{"s":"LSTM","x":7,"y":0.061},{"s":"LSTM","x":17,"y":0.0608},{"s":"LSTM","x":21,"y":0.0596},{"s":"LSTM","x":53,"y":0.0595},{"s":"LSTM","x":55,"y":0.058},{"s":"LSTM","x":57,"y":0.0608},{"s":"LSTM","x":67,"y":0.0606},{"s":"LSTM","x":71,"y":0.0595},{"s":"LSTM","x":98,"y":0.0595},{"s":"LSTM","x":100,"y":0.0572},{"s":"LSTM","x":102,"y":0.061},{"s":"LSTM","x":112,"y":0.0607},{"s":"LSTM","x":116,"y":0.0596},{"s":"LSTM","x":148,"y":0.0594},{"s":"LSTM","x":150,"y":0.0575},{"s":"LSTM","x":152,"y":0.061},{"s":"LSTM","x":162,"y":0.0612},{"s":"LSTM","x":166,"y":0.0596},{"s":"LSTM","x":211,"y":0.0588},{"s":"LSTM","x":213,"y":0.0582},{"s":"LSTM","x":215,"y":0.0605},{"s":"LSTM","x":225,"y":0.061},{"s":"LSTM","x":229,"y":0.0605},{"s":"LSTM","x":256,"y":0.0595},{"s":"LSTM","x":258,"y":0.0578},{"s":"LSTM","x":260,"y":0.061},{"s":"LSTM","x":270,"y":0.0607},{"s":"LSTM","x":274,"y":0.0595},{"s":"LSTM","x":303,"y":0.0595},{"s":"LSTM","x":305,"y":0.058},{"s":"LSTM","x":307,"y":0.0609},{"s":"LSTM","x":317,"y":0.0606},{"s":"LSTM","x":321,"y":0.0595},{"s":"LSTM","x":353,"y":0.0595},{"s":"LSTM","x":355,"y":0.0576},{"s":"LSTM","x":357,"y":0.0611},{"s":"LSTM","x":367,"y":0.0608},{"s":"LSTM","x":371,"y":0.0596},{"s":"LSTM","x":410,"y":0.0595},{"s":"LSTM","x":412,"y":0.0578},{"s":"LSTM","x":414,"y":0.061},{"s":"LSTM","x":424,"y":0.0607},{"s":"LSTM","x":428,"y":0.0595},{"s":"LSTM","x":460,"y":0.0595},{"s":"LSTM","x":462,"y":0.0577},{"s":"LSTM","x":464,"y":0.061},{"s":"LSTM","x":474,"y":0.0608},{"s":"LSTM","x":478,"y":0.0596},{"s":"LSTM","x":499,"y":0.0594},
{"s":"GRU","x":0,"y":0.0612},{"s":"GRU","x":3,"y":0.0613},{"s":"GRU","x":5,"y":0.056},{"s":"GRU","x":7,"y":0.0634},{"s":"GRU","x":17,"y":0.0633},{"s":"GRU","x":21,"y":0.0615},{"s":"GRU","x":53,"y":0.0613},{"s":"GRU","x":55,"y":0.0565},{"s":"GRU","x":57,"y":0.0632},{"s":"GRU","x":67,"y":0.063},{"s":"GRU","x":71,"y":0.0614},{"s":"GRU","x":98,"y":0.0612},{"s":"GRU","x":100,"y":0.053},{"s":"GRU","x":102,"y":0.0634},{"s":"GRU","x":112,"y":0.0632},{"s":"GRU","x":116,"y":0.0614},{"s":"GRU","x":148,"y":0.0612},{"s":"GRU","x":150,"y":0.0548},{"s":"GRU","x":152,"y":0.0635},{"s":"GRU","x":162,"y":0.0633},{"s":"GRU","x":166,"y":0.0618},{"s":"GRU","x":211,"y":0.0603},{"s":"GRU","x":213,"y":0.0548},{"s":"GRU","x":215,"y":0.0628},{"s":"GRU","x":225,"y":0.0632},{"s":"GRU","x":229,"y":0.062},{"s":"GRU","x":256,"y":0.0613},{"s":"GRU","x":258,"y":0.056},{"s":"GRU","x":260,"y":0.0634},{"s":"GRU","x":270,"y":0.0632},{"s":"GRU","x":274,"y":0.0614},{"s":"GRU","x":303,"y":0.0613},{"s":"GRU","x":305,"y":0.0565},{"s":"GRU","x":307,"y":0.0632},{"s":"GRU","x":317,"y":0.063},{"s":"GRU","x":321,"y":0.0614},{"s":"GRU","x":353,"y":0.0613},{"s":"GRU","x":355,"y":0.056},{"s":"GRU","x":357,"y":0.0635},{"s":"GRU","x":367,"y":0.0633},{"s":"GRU","x":371,"y":0.0615},{"s":"GRU","x":410,"y":0.0613},{"s":"GRU","x":412,"y":0.0562},{"s":"GRU","x":414,"y":0.0634},{"s":"GRU","x":424,"y":0.0632},{"s":"GRU","x":428,"y":0.0614},{"s":"GRU","x":460,"y":0.0613},{"s":"GRU","x":462,"y":0.056},{"s":"GRU","x":464,"y":0.0635},{"s":"GRU","x":474,"y":0.0633},{"s":"GRU","x":478,"y":0.0615},{"s":"GRU","x":499,"y":0.0612},
{"s":"RNN","x":0,"y":0.0603},{"s":"RNN","x":3,"y":0.0603},{"s":"RNN","x":5,"y":0.0572},{"s":"RNN","x":7,"y":0.0602},{"s":"RNN","x":17,"y":0.0578},{"s":"RNN","x":21,"y":0.0604},{"s":"RNN","x":53,"y":0.0603},{"s":"RNN","x":55,"y":0.0575},{"s":"RNN","x":57,"y":0.06},{"s":"RNN","x":67,"y":0.058},{"s":"RNN","x":71,"y":0.0604},{"s":"RNN","x":98,"y":0.0603},{"s":"RNN","x":100,"y":0.057},{"s":"RNN","x":102,"y":0.0602},{"s":"RNN","x":112,"y":0.0578},{"s":"RNN","x":116,"y":0.0604},{"s":"RNN","x":148,"y":0.0603},{"s":"RNN","x":150,"y":0.0568},{"s":"RNN","x":152,"y":0.06},{"s":"RNN","x":162,"y":0.0575},{"s":"RNN","x":166,"y":0.0603},{"s":"RNN","x":211,"y":0.0598},{"s":"RNN","x":213,"y":0.0585},{"s":"RNN","x":215,"y":0.0615},{"s":"RNN","x":225,"y":0.062},{"s":"RNN","x":229,"y":0.0612},{"s":"RNN","x":256,"y":0.0603},{"s":"RNN","x":258,"y":0.0572},{"s":"RNN","x":260,"y":0.0602},{"s":"RNN","x":270,"y":0.0578},{"s":"RNN","x":274,"y":0.0604},{"s":"RNN","x":303,"y":0.0603},{"s":"RNN","x":305,"y":0.0575},{"s":"RNN","x":307,"y":0.06},{"s":"RNN","x":317,"y":0.058},{"s":"RNN","x":321,"y":0.0604},{"s":"RNN","x":353,"y":0.0603},{"s":"RNN","x":355,"y":0.0572},{"s":"RNN","x":357,"y":0.0602},{"s":"RNN","x":367,"y":0.0578},{"s":"RNN","x":371,"y":0.0604},{"s":"RNN","x":410,"y":0.0603},{"s":"RNN","x":412,"y":0.0573},{"s":"RNN","x":414,"y":0.0601},{"s":"RNN","x":424,"y":0.0579},{"s":"RNN","x":428,"y":0.0604},{"s":"RNN","x":460,"y":0.0603},{"s":"RNN","x":462,"y":0.0572},{"s":"RNN","x":464,"y":0.0602},{"s":"RNN","x":474,"y":0.0578},{"s":"RNN","x":478,"y":0.0604},{"s":"RNN","x":499,"y":0.0603}
],
"r3r":[
{"s":"TCN","x":0,"y":0.0565},{"s":"TCN","x":1,"y":0.0555},{"s":"TCN","x":2,"y":0.062},{"s":"TCN","x":3,"y":0.0632},{"s":"TCN","x":5,"y":0.0635},{"s":"TCN","x":10,"y":0.0637},{"s":"TCN","x":13,"y":0.0632},{"s":"TCN","x":14,"y":0.0625},{"s":"TCN","x":15,"y":0.062},{"s":"TCN","x":17,"y":0.0618},{"s":"TCN","x":20,"y":0.0612},{"s":"TCN","x":30,"y":0.061},{"s":"TCN","x":40,"y":0.0608},{"s":"TCN","x":50,"y":0.0605},{"s":"TCN","x":58,"y":0.0603},{"s":"TCN","x":60,"y":0.0602},{"s":"TCN","x":62,"y":0.059},{"s":"TCN","x":63,"y":0.0565},{"s":"TCN","x":64,"y":0.0575},{"s":"TCN","x":66,"y":0.063},{"s":"TCN","x":70,"y":0.0635},{"s":"TCN","x":75,"y":0.0633},{"s":"TCN","x":78,"y":0.0628},{"s":"TCN","x":80,"y":0.062},{"s":"TCN","x":85,"y":0.0615},{"s":"TCN","x":90,"y":0.0612},{"s":"TCN","x":100,"y":0.061},
{"s":"LSTM","x":0,"y":0.0585},{"s":"LSTM","x":1,"y":0.0575},{"s":"LSTM","x":2,"y":0.06},{"s":"LSTM","x":3,"y":0.061},{"s":"LSTM","x":5,"y":0.0612},{"s":"LSTM","x":10,"y":0.0613},{"s":"LSTM","x":13,"y":0.061},{"s":"LSTM","x":14,"y":0.0605},{"s":"LSTM","x":15,"y":0.0598},{"s":"LSTM","x":17,"y":0.0596},{"s":"LSTM","x":20,"y":0.0595},{"s":"LSTM","x":30,"y":0.0595},{"s":"LSTM","x":40,"y":0.0595},{"s":"LSTM","x":50,"y":0.0594},{"s":"LSTM","x":58,"y":0.0588},{"s":"LSTM","x":60,"y":0.058},{"s":"LSTM","x":62,"y":0.0585},{"s":"LSTM","x":63,"y":0.0582},{"s":"LSTM","x":64,"y":0.059},{"s":"LSTM","x":66,"y":0.0605},{"s":"LSTM","x":70,"y":0.061},{"s":"LSTM","x":75,"y":0.061},{"s":"LSTM","x":78,"y":0.0605},{"s":"LSTM","x":80,"y":0.0598},{"s":"LSTM","x":85,"y":0.0596},{"s":"LSTM","x":90,"y":0.0595},{"s":"LSTM","x":100,"y":0.0594},
{"s":"GRU","x":0,"y":0.0555},{"s":"GRU","x":1,"y":0.0548},{"s":"GRU","x":2,"y":0.0625},{"s":"GRU","x":3,"y":0.0633},{"s":"GRU","x":5,"y":0.0635},{"s":"GRU","x":10,"y":0.0635},{"s":"GRU","x":13,"y":0.0633},{"s":"GRU","x":14,"y":0.063},{"s":"GRU","x":15,"y":0.0625},{"s":"GRU","x":17,"y":0.0618},{"s":"GRU","x":20,"y":0.0614},{"s":"GRU","x":30,"y":0.0612},{"s":"GRU","x":40,"y":0.061},{"s":"GRU","x":50,"y":0.061},{"s":"GRU","x":58,"y":0.0605},{"s":"GRU","x":60,"y":0.0603},{"s":"GRU","x":62,"y":0.0585},{"s":"GRU","x":63,"y":0.0548},{"s":"GRU","x":64,"y":0.058},{"s":"GRU","x":66,"y":0.0628},{"s":"GRU","x":70,"y":0.0632},{"s":"GRU","x":75,"y":0.063},{"s":"GRU","x":78,"y":0.0625},{"s":"GRU","x":80,"y":0.0618},{"s":"GRU","x":85,"y":0.0613},{"s":"GRU","x":90,"y":0.0612},{"s":"GRU","x":100,"y":0.0612},
{"s":"RNN","x":0,"y":0.0575},{"s":"RNN","x":1,"y":0.0568},{"s":"RNN","x":2,"y":0.0598},{"s":"RNN","x":3,"y":0.06},{"s":"RNN","x":5,"y":0.0602},{"s":"RNN","x":10,"y":0.06},{"s":"RNN","x":13,"y":0.0598},{"s":"RNN","x":14,"y":0.057},{"s":"RNN","x":15,"y":0.0575},{"s":"RNN","x":17,"y":0.06},{"s":"RNN","x":20,"y":0.0605},{"s":"RNN","x":30,"y":0.0605},{"s":"RNN","x":40,"y":0.0604},{"s":"RNN","x":50,"y":0.0602},{"s":"RNN","x":58,"y":0.06},{"s":"RNN","x":60,"y":0.0598},{"s":"RNN","x":62,"y":0.0595},{"s":"RNN","x":63,"y":0.0585},{"s":"RNN","x":64,"y":0.059},{"s":"RNN","x":66,"y":0.0615},{"s":"RNN","x":70,"y":0.062},{"s":"RNN","x":75,"y":0.062},{"s":"RNN","x":78,"y":0.0618},{"s":"RNN","x":80,"y":0.0612},{"s":"RNN","x":85,"y":0.061},{"s":"RNN","x":90,"y":0.0608},{"s":"RNN","x":100,"y":0.0607},
{"s":"GT","x":0,"y":0.0603},{"s":"GT","x":5,"y":0.0605},{"s":"GT","x":10,"y":0.0605},{"s":"GT","x":13,"y":0.061},{"s":"GT","x":14,"y":0.07},{"s":"GT","x":15,"y":0.0897},{"s":"GT","x":17,"y":0.0929},{"s":"GT","x":20,"y":0.0912},{"s":"GT","x":23,"y":0.0901},{"s":"GT","x":25,"y":0.0793},{"s":"GT","x":27,"y":0.0717},{"s":"GT","x":29,"y":0.0755},{"s":"GT","x":31,"y":0.0698},{"s":"GT","x":33,"y":0.0651},{"s":"GT","x":36,"y":0.0625},{"s":"GT","x":45,"y":0.0612},{"s":"GT","x":55,"y":0.061},{"s":"GT","x":60,"y":0.0608},{"s":"GT","x":62,"y":0.0717},{"s":"GT","x":64,"y":0.1},{"s":"GT","x":66,"y":0.1039},{"s":"GT","x":69,"y":0.1033},{"s":"GT","x":71,"y":0.1},{"s":"GT","x":73,"y":0.0833},{"s":"GT","x":75,"y":0.0742},{"s":"GT","x":76,"y":0.0775},{"s":"GT","x":78,"y":0.0717},{"s":"GT","x":80,"y":0.0666},{"s":"GT","x":83,"y":0.0645},{"s":"GT","x":89,"y":0.0626},{"s":"GT","x":96,"y":0.062},{"s":"GT","x":100,"y":0.0618}
]
},
"spacing":44,
"resolve":{"scale":{"color":"independent","strokeDash":"independent"},"legend":{"color":"independent","strokeDash":"independent"}},
"vconcat":[
{"spacing":-26,
"resolve":{"scale":{"color":"independent","strokeDash":"independent"},"legend":{"color":"independent","strokeDash":"independent"}},
"hconcat":[
{"width":205,"height":154,
"encoding":{"x":{"field":"x","type":"quantitative","scale":{"domain":[-27,527],"nice":false,"zero":false},"axis":{"values":[0,100,200,300,400,500],"title":"n_samples","labelOverlap":false}},
"y":{"field":"y","type":"quantitative","scale":{"domain":[2.64,3.055],"nice":false,"zero":false},"axis":{"values":[2.65,2.7,2.75,2.8,2.85,2.9,2.95,3.0,3.05],"format":".2f","title":null,"labelOverlap":false}}},
"layer":[
{"data":{"name":"r1l"},"mark":{"type":"line","strokeWidth":0.9},"encoding":{
"color":{"field":"s","type":"nominal","scale":{"domain":["TCN","LSTM","GRU","RNN","GT"],"range":["#e8342f","#2f3fd6","#1e1e1e","#6cb3a4","#5a5a5a"]},"legend":{"title":null,"orient":"top-left","symbolType":"M-1.8,0H1.8","labelExpr":"datum.label == 'GT' ? 'GT' : 'Prediction ' + datum.label"}},
"strokeDash":{"field":"s","type":"nominal","scale":{"domain":["TCN","LSTM","GRU","RNN","GT"],"range":[[2.6,1.3],[2.6,1.3],[2.6,1.3],[4,1.2],[2.6,1.3]]},"legend":{"title":null,"orient":"top-left","symbolType":"M-1.8,0H1.8","labelExpr":"datum.label == 'GT' ? 'GT' : 'Prediction ' + datum.label"}}}},
{"data":{"values":[{"x":146,"x2":240,"y":2.731,"y2":2.91}]},"mark":{"type":"rect","filled":false,"stroke":"#e4383d","strokeWidth":1},"encoding":{"x2":{"field":"x2"},"y2":{"field":"y2"}}},
{"data":{"values":[{"x":240,"y":2.91,"x2":638,"y2":3.055},{"x":240,"y":2.731,"x2":638,"y2":2.645}]},"mark":{"type":"rule","stroke":"#e4383d","strokeWidth":1},"encoding":{"x2":{"field":"x2"},"y2":{"field":"y2"}}}
]},
{"width":200,"height":152,
"encoding":{"x":{"field":"x","type":"quantitative","scale":{"domain":[-4,104],"nice":false,"zero":false},"axis":{"values":[0,20,40,60,80,100],"title":"n_samples","labelOverlap":false,"labelAlign":{"condition":{"test":"datum.value == 100","value":"right"},"value":"center"}}},
"y":{"field":"y","type":"quantitative","scale":{"domain":[2.731,2.912],"nice":false,"zero":false},"axis":{"values":[2.75,2.775,2.8,2.825,2.85,2.875,2.9],"format":".3f","title":"X axis","labelOverlap":false}}},
"layer":[
{"data":{"name":"r1r"},"mark":{"type":"line","strokeWidth":0.9},"encoding":{
"color":{"field":"s","type":"nominal","scale":{"domain":["TCN","LSTM","GRU","RNN","GT"],"range":["#e8342f","#2f3fd6","#1e1e1e","#6cb3a4","#5a5a5a"]},"legend":{"title":null,"orient":"none","legendX":130,"legendY":97,"symbolType":"M-1.8,0H1.8","labelExpr":"datum.label == 'GT' ? 'GT' : 'Prediction ' + datum.label"}},
"strokeDash":{"field":"s","type":"nominal","scale":{"domain":["TCN","LSTM","GRU","RNN","GT"],"range":[[2.6,1.3],[2.6,1.3],[2.6,1.3],[4,1.2],[2.6,1.3]]},"legend":{"title":null,"orient":"none","legendX":130,"legendY":97,"symbolType":"M-1.8,0H1.8","labelExpr":"datum.label == 'GT' ? 'GT' : 'Prediction ' + datum.label"}}}}
]}
]},
{"spacing":-28,
"resolve":{"scale":{"color":"independent","strokeDash":"independent"},"legend":{"color":"independent","strokeDash":"independent"}},
"hconcat":[
{"width":24.5,"height":10,"view":{"stroke":null},"data":{"values":[]},"mark":"point"},
{"width":191,"height":144,"title":"Prediction in test phase Y axis",
"encoding":{"x":{"field":"x","type":"quantitative","scale":{"domain":[-26,524],"nice":false,"zero":false},"axis":{"values":[0,100,200,300,400,500],"title":"n_samples","labelOverlap":false}},
"y":{"field":"y","type":"quantitative","scale":{"domain":[0.016,0.237],"nice":false,"zero":false},"axis":{"values":[0.025,0.05,0.075,0.1,0.125,0.15,0.175,0.2,0.225],"format":".3f","title":"Y axis","labelOverlap":false}}},
"layer":[
{"data":{"name":"r2l"},"mark":{"type":"line","strokeWidth":0.9},"encoding":{
"color":{"field":"s","type":"nominal","scale":{"domain":["TCN","LSTM","GRU","RNN","GT"],"range":["#e8342f","#2f3fd6","#1f2f1f","#8ab6c8","#3f9c48"]},"legend":{"title":null,"orient":"top-right","symbolType":"M-1.8,0H1.8","labelExpr":"datum.label == 'GT' ? 'GT' : 'Prediction ' + datum.label"}},
"strokeDash":{"field":"s","type":"nominal","scale":{"domain":["TCN","LSTM","GRU","RNN","GT"],"range":[[2.6,1.3],[2.6,1.3],[2.6,1.3],[4,1.2],[2.6,1.3]]},"legend":{"title":null,"orient":"top-right","symbolType":"M-1.8,0H1.8","labelExpr":"datum.label == 'GT' ? 'GT' : 'Prediction ' + datum.label"}}}},
{"data":{"values":[{"x":149,"x2":244,"y":0.026,"y2":0.226}]},"mark":{"type":"rect","filled":false,"stroke":"#e4383d","strokeWidth":1},"encoding":{"x2":{"field":"x2"},"y2":{"field":"y2"}}},
{"data":{"values":[{"x":244,"y":0.226,"x2":637,"y2":0.237},{"x":244,"y":0.026,"x2":637,"y2":0.016}]},"mark":{"type":"rule","stroke":"#e4383d","strokeWidth":1},"encoding":{"x2":{"field":"x2"},"y2":{"field":"y2"}}}
]},
{"width":188,"height":144,"title":"Prediction in test phase Y axis",
"encoding":{"x":{"field":"x","type":"quantitative","scale":{"domain":[-5,104],"nice":false,"zero":false},"axis":{"values":[0,20,40,60,80,100],"title":"n_samples","labelOverlap":false,"labelAlign":{"condition":{"test":"datum.value == 100","value":"right"},"value":"center"}}},
"y":{"field":"y","type":"quantitative","scale":{"domain":[0.0205,0.236],"nice":false,"zero":false},"axis":{"values":[0.025,0.05,0.075,0.1,0.125,0.15,0.175,0.2,0.225],"format":".3f","title":"Y axis","labelOverlap":false}}},
"layer":[
{"data":{"name":"r2r"},"mark":{"type":"line","strokeWidth":0.9},"encoding":{
"color":{"field":"s","type":"nominal","scale":{"domain":["TCN","LSTM","GRU","RNN","GT"],"range":["#e8342f","#2f3fd6","#1f2f1f","#8ab6c8","#3f9c48"]},"legend":{"title":null,"orient":"none","legendX":121,"legendY":2,"symbolType":"M-1.8,0H1.8","labelExpr":"datum.label == 'GT' ? 'GT' : 'Prediction ' + datum.label"}},
"strokeDash":{"field":"s","type":"nominal","scale":{"domain":["TCN","LSTM","GRU","RNN","GT"],"range":[[2.6,1.3],[2.6,1.3],[2.6,1.3],[4,1.2],[2.6,1.3]]},"legend":{"title":null,"orient":"none","legendX":121,"legendY":2,"symbolType":"M-1.8,0H1.8","labelExpr":"datum.label == 'GT' ? 'GT' : 'Prediction ' + datum.label"}}}}
]}
]},
{"spacing":-28,
"resolve":{"scale":{"color":"independent","strokeDash":"independent"},"legend":{"color":"independent","strokeDash":"independent"}},
"hconcat":[
{"width":24.5,"height":10,"view":{"stroke":null},"data":{"values":[]},"mark":"point"},
{"width":191,"height":143,"title":"Prediction in test phase Z axis",
"encoding":{"x":{"field":"x","type":"quantitative","scale":{"domain":[-26,524],"nice":false,"zero":false},"axis":{"values":[0,100,200,300,400,500],"title":"n_samples","labelOverlap":false}},
"y":{"field":"y","type":"quantitative","scale":{"domain":[0.05,0.12],"nice":false,"zero":false},"axis":{"values":[0.05,0.06,0.07,0.08,0.09,0.1,0.11,0.12],"format":".2f","title":"Z axis","labelOverlap":false}}},
"layer":[
{"data":{"name":"r3l"},"mark":{"type":"line","strokeWidth":0.9},"encoding":{
"color":{"field":"s","type":"nominal","scale":{"domain":["TCN","LSTM","GRU","RNN","GT"],"range":["#e8342f","#2f3fd6","#1f2f1f","#8ab6c8","#3f9c48"]},"legend":{"title":null,"orient":"top-left","symbolType":"M-1.8,0H1.8","labelExpr":"datum.label == 'GT' ? 'GT' : 'Prediction ' + datum.label"}},
"strokeDash":{"field":"s","type":"nominal","scale":{"domain":["TCN","LSTM","GRU","RNN","GT"],"range":[[2.6,1.3],[2.6,1.3],[2.6,1.3],[4,1.2],[2.6,1.3]]},"legend":{"title":null,"orient":"top-left","symbolType":"M-1.8,0H1.8","labelExpr":"datum.label == 'GT' ? 'GT' : 'Prediction ' + datum.label"}}}},
{"data":{"values":[{"x":147,"x2":243,"y":0.0535,"y2":0.1042}]},"mark":{"type":"rect","filled":false,"stroke":"#e4383d","strokeWidth":1},"encoding":{"x2":{"field":"x2"},"y2":{"field":"y2"}}},
{"data":{"values":[{"x":243,"y":0.1042,"x2":637,"y2":0.12},{"x":243,"y":0.0535,"x2":637,"y2":0.0505}]},"mark":{"type":"rule","stroke":"#e4383d","strokeWidth":1},"encoding":{"x2":{"field":"x2"},"y2":{"field":"y2"}}}
]},
{"width":188,"height":142,"title":"Prediction in test phase Z axis",
"encoding":{"x":{"field":"x","type":"quantitative","scale":{"domain":[-4.5,104],"nice":false,"zero":false},"axis":{"values":[0,20,40,60,80,100],"title":"n_samples","labelOverlap":false,"labelAlign":{"condition":{"test":"datum.value == 100","value":"right"},"value":"center"}}},
"y":{"field":"y","type":"quantitative","scale":{"domain":[0.0511,0.1062],"nice":false,"zero":false},"axis":{"values":[0.06,0.07,0.08,0.09,0.1],"format":".2f","title":"Z axis","labelOverlap":false}}},
"layer":[
{"data":{"name":"r3r"},"mark":{"type":"line","strokeWidth":0.9},"encoding":{
"color":{"field":"s","type":"nominal","scale":{"domain":["TCN","LSTM","GRU","RNN","GT"],"range":["#e8342f","#2f3fd6","#1f2f1f","#8ab6c8","#3f9c48"]},"legend":{"title":null,"orient":"none","legendX":62,"legendY":48,"symbolType":"M-1.8,0H1.8","labelExpr":"datum.label == 'GT' ? 'GT' : 'Prediction ' + datum.label"}},
"strokeDash":{"field":"s","type":"nominal","scale":{"domain":["TCN","LSTM","GRU","RNN","GT"],"range":[[2.6,1.3],[2.6,1.3],[2.6,1.3],[4,1.2],[2.6,1.3]]},"legend":{"title":null,"orient":"none","legendX":62,"legendY":48,"symbolType":"M-1.8,0H1.8","labelExpr":"datum.label == 'GT' ? 'GT' : 'Prediction ' + datum.label"}}}}
]}
]}
]
}
